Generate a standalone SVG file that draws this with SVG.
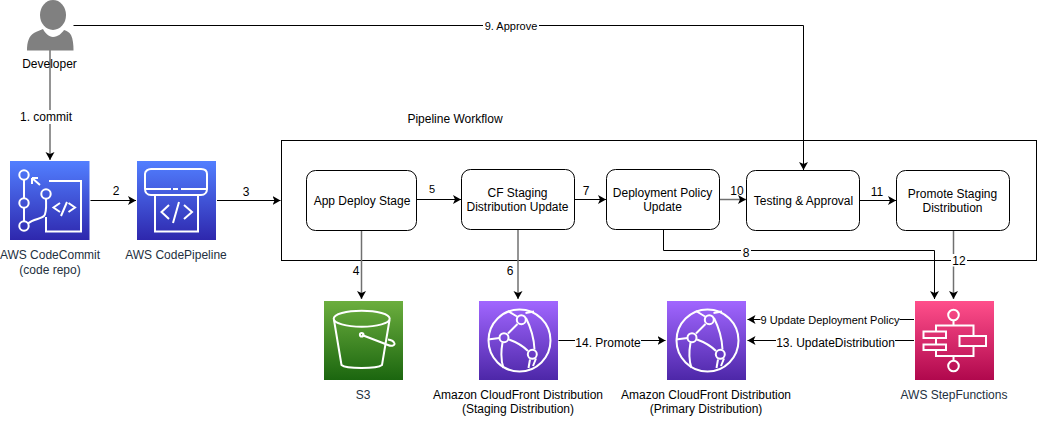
<svg xmlns="http://www.w3.org/2000/svg" width="1037" height="430" viewBox="0 0 1037 430">
<style>
text{font-family:"Liberation Sans",Arial,sans-serif;font-size:12px;fill:#000;text-anchor:middle}
text.s{font-size:11px}
.aws{fill:#232f3e}
.box{fill:#fff;stroke:#000;stroke-width:1}
.c{fill:none;stroke:#000;stroke-width:1;marker-end:url(#a)}
.n{fill:none;stroke:#000;stroke-width:1}
.g{stroke:#707070;stroke-width:1.5}
.i{fill:none;stroke:#fff;stroke-width:2}
.lb{fill:#fff;stroke:none}
</style>
<defs>
<marker id="a" markerUnits="userSpaceOnUse" markerWidth="9" markerHeight="10" refX="8" refY="4.500" orient="auto"><path d="M0 0L8 4.500L0 9L2 4.500Z" fill="#000"/></marker>
<linearGradient id="blue" x1="0" y1="1" x2="0" y2="0"><stop offset="0" stop-color="#2e27ad"/><stop offset="1" stop-color="#527fff"/></linearGradient>
<linearGradient id="green" x1="0" y1="1" x2="0" y2="0"><stop offset="0" stop-color="#1b660f"/><stop offset="1" stop-color="#6cae3e"/></linearGradient>
<linearGradient id="purple" x1="0" y1="1" x2="0" y2="0"><stop offset="0" stop-color="#4d27a8"/><stop offset="1" stop-color="#a166ff"/></linearGradient>
<linearGradient id="pink" x1="0" y1="1" x2="0" y2="0"><stop offset="0" stop-color="#b0084d"/><stop offset="1" stop-color="#ff4f8b"/></linearGradient>
<g id="cf">
<circle cx="40.500" cy="39.500" r="31" class="i"/>
<circle cx="42.300" cy="18.700" r="4.500" class="i"/><circle cx="25" cy="36.700" r="4.500" class="i"/><circle cx="53.300" cy="53.300" r="4.500" class="i"/>
<path class="i" d="M38.500 23L29 32.500M47 17C52 27 55 36 55.500 48.500M30 38.500C37 41 43 44 49 50M23.500 41.500C22 50 22 60 24.500 67M20.500 37L9 38.500M29 10L38 15.500M46.500 12L55 10.500M51 58.500L49.500 67M57 57.500L54 65"/>
</g>
</defs>
<rect x="281.500" y="140.500" width="755" height="120" class="box"/>
<g id="connectors">
<path class="n" d="M73.500 25.500H803.500"/><path class="c" d="M803.500 25.500V170"/>
<path class="c g" d="M50 50V160"/>
<path class="c" d="M90.500 200.500H136"/>
<path class="c" d="M217 200.500H280.500"/>
<path class="c g" d="M361.500 230V299"/>
<path class="c" d="M416.500 199.500H461"/>
<path class="c g" d="M518 229.500V299"/>
<path class="c" d="M574.500 199.500H606"/>
<path class="c" d="M663.500 230V250.500H934.500V299"/>
<path class="c g" d="M719.500 199.500H746"/>
<path class="c" d="M859.500 200.500H896"/>
<path class="c g" d="M953.500 230V299"/>
<path class="c" d="M558.500 340.500H665.500"/>
<path class="c" d="M914 319.500H747.500"/>
<path class="c" d="M914 340.500H747.500"/>
</g>
<g id="labels">
<rect class="lb" x="483" y="19" width="56" height="13"/><text class="s" x="511" y="30">9. Approve</text>
<rect class="lb" x="19" y="110" width="55" height="14"/><text x="46" y="121">1. commit</text>
<text x="116" y="194.500">2</text><text x="246" y="196">3</text>
<text x="356" y="275">4</text><text class="s" x="432" y="193">5</text>
<text x="510" y="275">6</text><text x="586" y="195">7</text>
<rect class="lb" x="741" y="245" width="10" height="12"/><text x="746" y="256.500">8</text>
<text x="737" y="195">10</text><text x="877" y="196">11</text>
<rect class="lb" x="951" y="254" width="16" height="12.500"/><text x="959" y="264.500">12</text>
<rect class="lb" x="575" y="335" width="66" height="14"/><text x="608" y="347">14. Promote</text>
<rect class="lb" x="760.500" y="313" width="139" height="14"/><text class="s" x="830" y="324">9 Update Deployment Policy</text>
<rect class="lb" x="776" y="335" width="119" height="14"/><text x="835.500" y="347">13. UpdateDistribution</text>
</g>
<g id="developer">
<ellipse cx="53" cy="15" rx="13" ry="15" fill="#808080"/>
<path d="M27 50.500C27 42 29 36 34 33C37 31 41 30 43 29C45 33 49 37 53 37C58 37 62 33 64 30C67 31 69 32 71 35C73 39 73.500 45 73.500 50.500Z" fill="#808080"/>
<text x="49.500" y="68">Developer</text>
</g>
<g id="codecommit">
<rect x="10" y="161" width="79.500" height="79" fill="url(#blue)"/>
<path class="i" d="M49 181H81V231.500H46V217M24 180V198M24 208V221M28 223.500C33 219 41 219 44 216C47 212 46 205 46 199M32 178L40 185M32 178H38M32 178V184"/>
<circle cx="24" cy="175" r="4.700" class="i"/><circle cx="24" cy="203" r="4.700" class="i"/><circle cx="24" cy="226" r="4.700" class="i"/><circle cx="46" cy="194" r="4.700" class="i"/>
<path class="i" d="M60 203L53.500 207.500L60 212M68.500 203L75 207.500L68.500 212M67 202L61 216"/>
<text x="50" y="259" class="aws">AWS CodeCommit</text><text x="50" y="274" class="aws">(code repo)</text>
</g>
<g id="codepipeline">
<rect x="137" y="161" width="79" height="79" fill="url(#blue)"/>
<path class="i" d="M155 195H151C147 195 145 192 145 189V174C145 171 148 169 151 169H201C205 169 207 171 207 174V189C207 192 205 195 201 195H198M145 189H171M173 189H178M181 189H207M155 195H198M155 195V231.500H198V195"/>
<path class="i" d="M169 205L161.500 212L169 219M184 205L192 212L184 219M179 202L173 223"/>
<text x="176" y="259" class="aws">AWS CodePipeline</text>
</g>
<g id="app-deploy"><rect x="306.500" y="170.500" width="110" height="60" rx="9" class="box"/><text x="362" y="205">App Deploy Stage</text></g>
<g id="cf-staging"><rect x="461.500" y="169.500" width="113" height="60" rx="9" class="box"/><text x="517.500" y="197">CF Staging</text><text x="517.500" y="211">Distribution Update</text></g>
<g id="deployment-policy"><rect x="606.500" y="169.500" width="113" height="60" rx="9" class="box"/><text x="662.500" y="197">Deployment Policy</text><text x="662.500" y="211">Update</text></g>
<g id="testing"><rect x="746.500" y="170.500" width="113" height="60" rx="9" class="box"/><text x="803.500" y="205">Testing &amp; Approval</text></g>
<g id="promote"><rect x="896.500" y="170.500" width="113" height="60" rx="9" class="box"/><text x="952.500" y="198">Promote Staging</text><text x="952.500" y="212">Distribution</text></g>
<text x="455" y="123">Pipeline Workflow</text>
<g id="s3">
<rect x="324" y="301" width="79" height="79" fill="url(#green)"/>
<ellipse cx="361.700" cy="318.700" rx="28" ry="8" class="i"/>
<path class="i" d="M334 320L341.500 365C346 369 377 369 382 365L389.500 320M362 335L388 345C392 347 396 345 394 342.500C393 340.500 391 340 388 339.500"/>
<circle cx="361.700" cy="334.700" r="1.800" class="i"/>
<text x="363" y="399" class="aws">S3</text>
</g>
<g id="cf-staging-dist">
<rect x="479" y="301" width="79" height="79" fill="url(#purple)"/>
<use href="#cf" x="479" y="301"/>
<text x="518" y="399">Amazon CloudFront Distribution</text><text x="518" y="413">(Staging Distribution)</text>
</g>
<g id="cf-primary-dist">
<rect x="667" y="301" width="79" height="79" fill="url(#purple)"/>
<use href="#cf" x="667" y="301"/>
<text x="706" y="399">Amazon CloudFront Distribution</text><text x="706" y="413">(Primary Distribution)</text>
</g>
<g id="stepfunctions">
<rect x="915" y="301" width="79" height="79" fill="url(#pink)"/>
<circle cx="953.500" cy="315" r="5.300" class="i"/><circle cx="953.500" cy="366" r="5.300" class="i"/>
<path class="i" d="M953.500 320.500V325.500M936 331V325.500H973.500V336M936 338V344.500M936 350V356H973.500V346M953.500 356V360.500"/>
<rect x="923.500" y="331.500" width="22.500" height="6.500" class="i"/><rect x="923.500" y="344.500" width="22.500" height="5.500" class="i"/><rect x="959.500" y="336" width="26.500" height="10" class="i"/>
<text x="954" y="399" class="aws">AWS StepFunctions</text>
</g>
</svg>
